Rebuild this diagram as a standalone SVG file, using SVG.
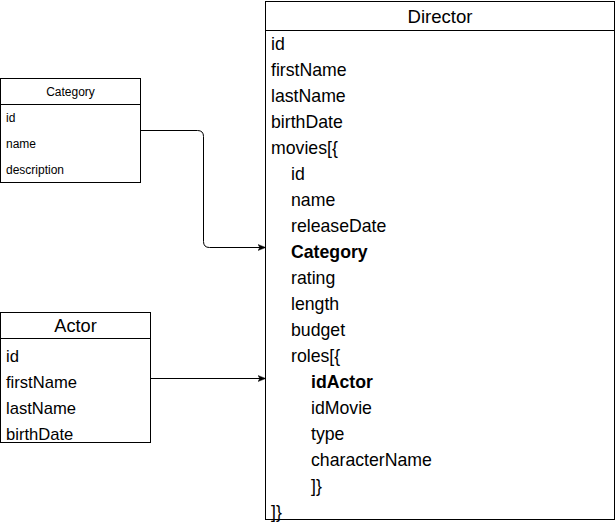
<svg xmlns="http://www.w3.org/2000/svg" width="616" height="524" viewBox="0 0 616 524">
<style>
.box{fill:#fff;stroke:#000;stroke-width:1}
.t{font-family:"Liberation Sans",Arial,sans-serif;fill:#000}
.d{font-size:17.7px}
.a{font-size:16.6px}
.c{font-size:12px}
.h{text-anchor:middle}
.b{font-weight:bold}
.conn{fill:none;stroke:#000;stroke-width:1}
</style>
<defs>
<marker id="arr" viewBox="0 0 10 10" refX="9" refY="5" markerWidth="8" markerHeight="8" markerUnits="userSpaceOnUse" orient="auto">
<path d="M0,1 L10,5 L0,9 L2.5,5 Z" fill="#000" stroke="#000" stroke-width="0.5"/>
</marker>
</defs>
<g id="director">
<rect class="box" x="265.5" y="1.5" width="349" height="518"/>
<line x1="265.5" y1="30.5" x2="614.5" y2="30.5" stroke="#000"/>
<text class="t h" x="440" y="23" style="font-size:18.6px">Director</text>
<text class="t d" x="271" y="50">id</text>
<text class="t d" x="271" y="76">firstName</text>
<text class="t d" x="271" y="102">lastName</text>
<text class="t d" x="271" y="128">birthDate</text>
<text class="t d" x="271" y="154">movies[{</text>
<text class="t d" x="291" y="180">id</text>
<text class="t d" x="291" y="206">name</text>
<text class="t d" x="291" y="232">releaseDate</text>
<text class="t d b" x="291" y="258">Category</text>
<text class="t d" x="291" y="284">rating</text>
<text class="t d" x="291" y="310">length</text>
<text class="t d" x="291" y="336">budget</text>
<text class="t d" x="291" y="362">roles[{</text>
<text class="t d b" x="311" y="388">idActor</text>
<text class="t d" x="311" y="414">idMovie</text>
<text class="t d" x="311" y="440">type</text>
<text class="t d" x="311" y="466">characterName</text>
<text class="t d" x="311" y="492">]}</text>
<text class="t d" x="271" y="518">]}</text>
</g>
<g id="category">
<rect class="box" x="0.5" y="78.5" width="140" height="104"/>
<line x1="0.5" y1="104.5" x2="140.5" y2="104.5" stroke="#000"/>
<text class="t c h" x="70.5" y="96">Category</text>
<text class="t c" x="6" y="122">id</text>
<text class="t c" x="6" y="148">name</text>
<text class="t c" x="6" y="174">description</text>
</g>
<g id="actor">
<rect class="box" x="0.5" y="312.5" width="150" height="130"/>
<line x1="0.5" y1="338.5" x2="150.5" y2="338.5" stroke="#000"/>
<text class="t h" x="75.5" y="332" style="font-size:18.2px">Actor</text>
<text class="t a" x="6" y="362">id</text>
<text class="t a" x="6" y="388">firstName</text>
<text class="t a" x="6" y="414">lastName</text>
<text class="t a" x="6" y="440">birthDate</text>
</g>
<g id="connectors">
<path class="conn" d="M140.5,130.5 H197.5 Q203.5,130.5 203.5,136.5 V241.5 Q203.5,247.5 209.5,247.5 H265" marker-end="url(#arr)"/>
<path class="conn" d="M150.5,378.5 H265" marker-end="url(#arr)"/>
</g>
</svg>
